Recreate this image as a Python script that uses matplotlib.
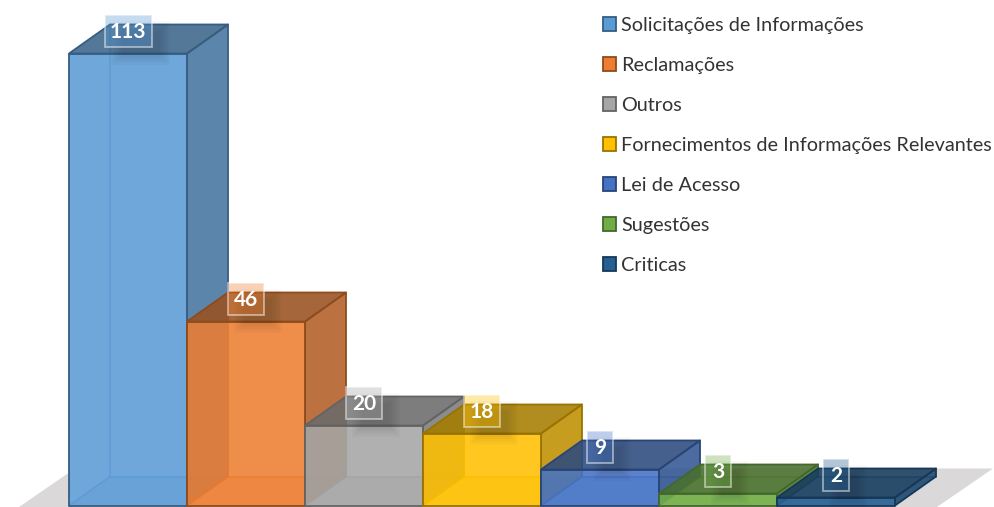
import matplotlib
matplotlib.use("Agg")
import matplotlib.pyplot as plt
from matplotlib.patches import Polygon, Patch, Rectangle
from matplotlib.colors import to_rgb

categories = ["Solicitações de Informações", "Reclamações", "Outros",
              "Fornecimentos de Informações Relevantes", "Lei de Acesso",
              "Sugestões", "Criticas"]
values = [113, 46, 20, 18, 9, 3, 2]
colors = ["#5B9BD5", "#ED7D31", "#A5A5A5", "#FFC000", "#4472C4", "#70AD47", "#255E91"]

W, H = 994, 507
PX_X = 118.0   # pixels per category
PX_Y = 4.0     # pixels per unit of value
X0 = 69.0      # pixel of the first bar's left edge
Y0 = 505.5     # pixel row of the zero line
DX = 41 / PX_X # depth offset in data units
DY = 29 / PX_Y
ALPHA = 0.88


def shade(c, k):
    r, g, b = to_rgb(c)
    return (r * k, g * k, b * k)


fig = plt.figure(figsize=(W / 100, H / 100), dpi=100)
ax = fig.add_axes([0, 0, 1, 1])
ax.set_xlim(-X0 / PX_X, (W - X0) / PX_X)
ax.set_ylim((Y0 - H) / PX_Y, Y0 / PX_Y)
ax.axis("off")


def poly(points, face, edge=None, alpha=1.0, lw=1.3, z=1):
    p = Polygon(points, closed=True, facecolor=(*to_rgb(face), alpha),
                edgecolor=edge if edge is not None else "none",
                linewidth=lw, joinstyle="round", zorder=z)
    ax.add_patch(p)


# floor
n = len(values)
fx0, fx1 = (19 - X0) / PX_X, (937 - X0) / PX_X
fdx, fdy = 56 / PX_X, 37 / PX_Y
poly([(fx0, (Y0 - H) / PX_Y), (fx1, (Y0 - H) / PX_Y), (fx1 + fdx, fdy), (fx0 + fdx, fdy)], "#DAD8D8", z=0)

# white ground below the translucent bars, so the floor does not show through them
for i, v in enumerate(values):
    top = max(v, DY)
    poly([(i, 0), (i + 1, 0), (i + 1, top), (i, top)], "white", z=0.5)
    poly([(i, 0), (i + 1, 0), (i + 1 + DX, DY), (i + DX, DY)], "white", z=0.5)

for i, (v, c) in enumerate(zip(values, colors)):
    z = 2 + i * 0.1
    x0, x1 = i, i + 1
    edge = shade(c, 0.6)
    inner = (*shade(c, 0.88), 0.75)
    # inner back edges seen through the front
    ax.plot([x0, x0 + DX, x0 + DX], [0, DY, DY + v], color=inner, lw=1.1, zorder=z)
    ax.plot([x0 + DX, x1 + DX], [DY, DY], color=inner, lw=1.1, zorder=z)
    # faces
    poly([(x0, 0), (x1, 0), (x1 + DX, DY), (x0 + DX, DY)], shade(c, 0.95), None, 0.35, z=z)
    poly([(x1, 0), (x1 + DX, DY), (x1 + DX, v + DY), (x1, v)], shade(c, 0.75), edge, ALPHA, z=z + 0.01)
    poly([(x0, v), (x1, v), (x1 + DX, v + DY), (x0 + DX, v + DY)], shade(c, 0.65), edge, ALPHA, z=z + 0.02)
    poly([(x0, 0), (x1, 0), (x1, v), (x0, v)], c, edge, ALPHA, z=z + 0.03)

# value labels with their soft shadow
for i, (v, c) in enumerate(zip(values, colors)):
    text = str(v)
    half_w = (23.5 if len(text) == 3 else 18 if len(text) == 2 else 13) / PX_X
    half_h = 16 / PX_Y
    cx = i + 59 / PX_X
    cy = v + 23 / PX_Y
    for g in range(6):
        grow = 6 - g * 2.0
        ax.add_patch(Rectangle((cx - half_w + (12 - grow) / PX_X, cy - half_h - (12 + grow) / PX_Y),
                               2 * half_w + 2 * grow / PX_X, 2 * half_h + 2 * grow / PX_Y,
                               facecolor=(0, 0, 0, 0.018), edgecolor="none", zorder=9))
    ax.add_patch(Rectangle((cx - half_w, cy - half_h), 2 * half_w, 2 * half_h,
                           facecolor=(*to_rgb(c), 0.35), edgecolor=(1, 1, 1, 0.5),
                           linewidth=1.3, zorder=10))
    ax.text(cx, cy, text, ha="center", va="center_baseline", color="white",
            fontsize=15, fontweight="bold", family="Lato", zorder=11)

handles = [Patch(facecolor=c, edgecolor=shade(c, 0.6), linewidth=1.3) for c in colors]
leg = ax.legend(handles, categories, loc="upper left", bbox_to_anchor=(603 / W, 1 - 17 / H),
                bbox_transform=fig.transFigure, frameon=False, ncol=1, borderpad=0, borderaxespad=0,
                prop={"family": "Lato", "size": 14.35}, handlelength=0.66, handleheight=0.66,
                handletextpad=0.24, labelspacing=1.155)
for t in leg.get_texts():
    t.set_color("#333333")

fig.savefig("out.png", dpi=100, facecolor="white")
